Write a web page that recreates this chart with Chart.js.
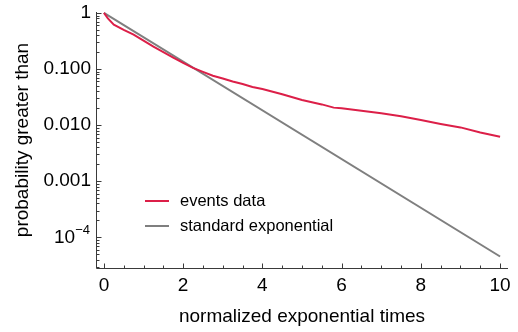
<!DOCTYPE html>
<html lang="en">
<head>
<meta charset="utf-8">
<title>Tail probability</title>
<script src="https://cdn.jsdelivr.net/npm/chart.js@4.4.1/dist/chart.umd.min.js"></script>
<style>
  html, body { margin: 0; padding: 0; background: #fff; }
  #wrap { width: 518px; height: 332px; }
</style>
</head>
<body>
<div id="wrap"><canvas id="chart"></canvas></div>
<script>
var eventsX = [0, 0.1, 0.25, 0.5, 0.75, 1.0, 1.25, 1.5, 1.75, 2.0, 2.25, 2.5, 2.75, 3.0, 3.25, 3.5, 3.75, 4.0,
               4.5, 5.0, 5.5, 5.8, 6.0, 6.5, 7.0, 7.5, 8.0, 8.5, 9.0, 9.5, 10.0];
var eventsP = [1, 0.80, 0.62, 0.50, 0.41, 0.32, 0.25, 0.20, 0.16, 0.129, 0.105, 0.089, 0.076, 0.068, 0.060, 0.054, 0.048, 0.044,
               0.0355, 0.028, 0.0234, 0.0205, 0.0200, 0.0180, 0.0162, 0.0144, 0.0123, 0.0105, 0.0091, 0.0074, 0.0062];
// standard exponential, straight on a log axis
var expX = [0, 10];
var expP = [1, 0.0000454];

var yTickValues = [1e-4, 1e-3, 1e-2, 1e-1, 1];
var yTickLabels = ["10^-4", "0.001", "0.010", "0.100", "1"];
var xTickValues = [0, 2, 4, 6, 8, 10];
var seriesNames = ["events data", "standard exponential"];

function toPoints(xs, ys) {
    var out = [];
    for (var i = 0; i < xs.length; i++) out.push({ x: xs[i], y: ys[i] });
    return out;
}

var FONT = "'Liberation Sans', Arial, sans-serif";
var AXIS = "#3a3a3a";

var frame = {
    id: "frame",
    afterDraw: function (chart) {
        var ctx = chart.ctx, xs = chart.scales.x, ys = chart.scales.y, a = chart.chartArea;
        ctx.save();
        ctx.strokeStyle = AXIS;
        ctx.lineWidth = 1;
        var bx = Math.round(a.left) + 0.5, by = Math.round(a.bottom) + 0.5;
        ctx.beginPath();
        ctx.moveTo(bx, a.top);
        ctx.lineTo(bx, by);
        ctx.lineTo(a.right, by);
        ctx.stroke();
        // x ticks, pointing inward
        for (var v = 0; v <= 10; v += 0.5) {
            var px = Math.round(xs.getPixelForValue(v)) + 0.5;
            var len = (v % 2 === 0) ? 5 : 3;
            ctx.beginPath();
            ctx.moveTo(px, by);
            ctx.lineTo(px, by - len);
            ctx.stroke();
        }
        // y ticks, log minor ones too
        for (var e = -5; e <= 0; e++) {
            for (var m = 1; m <= 9; m++) {
                var val = m * Math.pow(10, e);
                if (val < ys.min || val > ys.max) continue;
                var py = Math.round(ys.getPixelForValue(val)) + 0.5;
                var l = (m === 1) ? 5 : 3;
                ctx.beginPath();
                ctx.moveTo(bx, py);
                ctx.lineTo(bx + l, py);
                ctx.stroke();
            }
        }
        // power-of-ten labels with a real superscript
        ctx.fillStyle = "#000";
        ctx.textAlign = "right";
        ctx.textBaseline = "middle";
        yTickLabels.forEach(function (lab, i) {
            if (lab.indexOf("^") < 0) return;
            var parts = lab.split("^");
            var ty = ys.getPixelForValue(yTickValues[i]);
            var rx = a.left - 6;
            ctx.font = "13px " + FONT;
            var sup = parts[1].replace("-", "\u2212");
            ctx.fillText(sup, rx, ty - 7);
            var sw = ctx.measureText(sup).width;
            ctx.font = "19px " + FONT;
            ctx.fillText(parts[0], rx - sw, ty + 1);
        });
        // legend
        ctx.textAlign = "left";
        ctx.font = "16.5px " + FONT;
        chart.data.datasets.forEach(function (ds, i) {
            var lx = a.left + 49, ly = a.top + 189 + i * 25;
            ctx.strokeStyle = ds.borderColor;
            ctx.lineWidth = 2;
            ctx.beginPath();
            ctx.moveTo(lx, ly);
            ctx.lineTo(lx + 24, ly);
            ctx.stroke();
            ctx.fillText(ds.label, lx + 35, ly);
        });
        ctx.restore();
    }
};

new Chart(document.getElementById("chart"), {
    type: "line",
    data: {
        datasets: [{
            label: seriesNames[0],
            data: toPoints(eventsX, eventsP),
            borderColor: "#dc1f48",
            borderWidth: 2,
            pointRadius: 0,
            tension: 0
        }, {
            label: seriesNames[1],
            data: toPoints(expX, expP),
            borderColor: "#7f7f7f",
            borderWidth: 2,
            pointRadius: 0,
            tension: 0
        }]
    },
    options: {
        responsive: true,
        maintainAspectRatio: false,
        animation: false,
        layout: { padding: { left: 0, top: 12, right: 10, bottom: 0 } },
        plugins: { legend: { display: false }, tooltip: { enabled: false } },
        scales: {
            x: {
                type: "linear",
                min: -0.2,
                max: 10.2,
                grid: { display: false, drawTicks: false },
                border: { display: false },
                afterBuildTicks: function (s) {
                    s.ticks = xTickValues.map(function (v) { return { value: v }; });
                },
                afterFit: function (s) {
                    s.height = 64;
                    s.paddingLeft = 0;
                    s.paddingRight = 0;
                },
                ticks: {
                    color: "#000",
                    padding: 6,
                    maxRotation: 0,
                    font: { family: FONT, size: 19 },
                    callback: function (v) { return String(v); }
                },
                title: {
                    display: true,
                    text: "normalized exponential times",
                    color: "#000",
                    font: { family: FONT, size: 19 },
                    padding: { top: 0, bottom: 4 }
                }
            },
            y: {
                type: "logarithmic",
                min: 2.83e-5,
                max: 1.04,
                grid: { display: false, drawTicks: false },
                border: { display: false },
                afterBuildTicks: function (s) {
                    s.ticks = yTickValues.map(function (v) { return { value: v }; });
                },
                afterFit: function (s) {
                    s.width = 96;
                    s.paddingTop = 0;
                    s.paddingBottom = 0;
                },
                ticks: {
                    color: "#000",
                    padding: 5,
                    font: { family: FONT, size: 19 },
                    callback: function (v, i) {
                        return yTickLabels[i].indexOf("^") < 0 ? yTickLabels[i] : "";
                    }
                },
                title: {
                    display: true,
                    text: "probability greater than",
                    color: "#000",
                    font: { family: FONT, size: 19 },
                    padding: { top: 11, bottom: 0 }
                }
            }
        }
    },
    plugins: [frame]
});
</script>
</body>
</html>
